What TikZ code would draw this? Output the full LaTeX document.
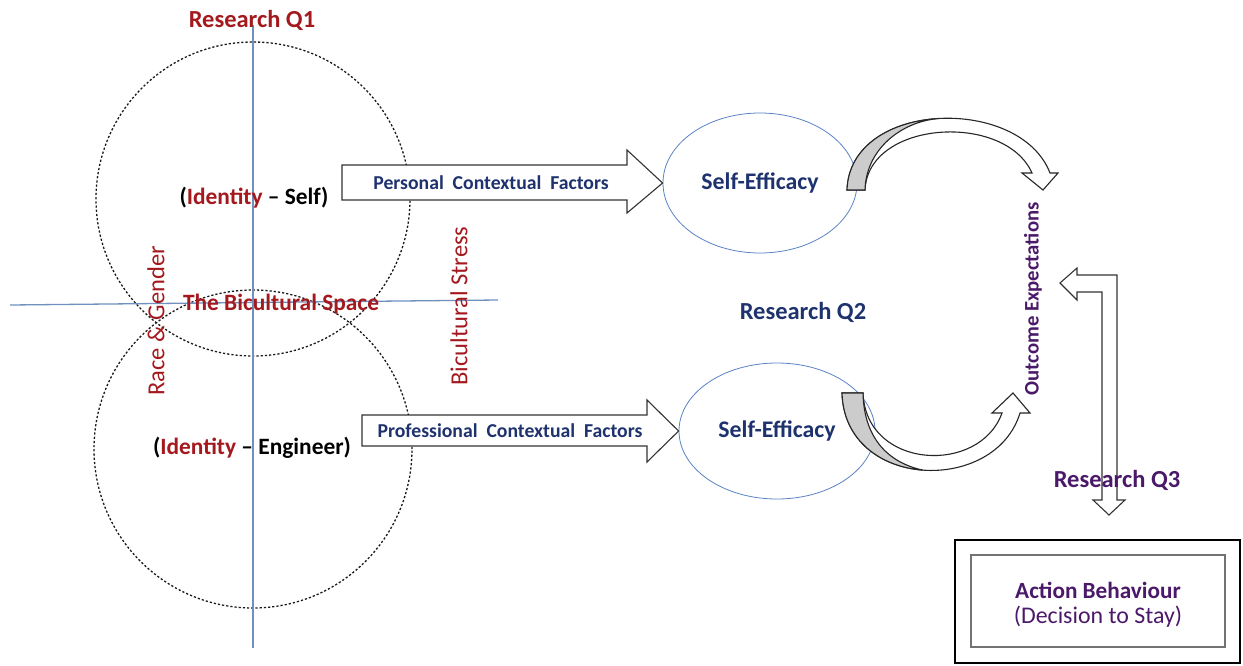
\documentclass[tikz,border=0pt]{standalone}
\usepackage{fontspec}
\setmainfont{Carlito}
\usetikzlibrary{shapes.geometric}
\definecolor{qred}{RGB}{163,25,30}
\definecolor{qblue}{RGB}{30,50,110}
\definecolor{qpurple}{RGB}{75,25,105}
\definecolor{lineblue}{RGB}{110,145,190}
\definecolor{ellblue}{RGB}{90,130,195}
\newcommand{\fs}[1]{\fontsize{#1}{#1}\selectfont}
\begin{document}
\begin{tikzpicture}[x=1pt,y=-1pt,
  txt/.style={inner sep=0pt, font=\fs{24.5}},
  btxt/.style={inner sep=0pt, font=\fs{23.4}\bfseries},
  rqtxt/.style={inner sep=0pt, font=\fs{24.5}\bfseries},
  ctxt/.style={inner sep=0pt, font=\fs{19.7}\bfseries, text=qblue},
  dotcircle/.style={draw=black!90, line width=1.3pt, dash pattern=on 2.2pt off 2pt},
  axisline/.style={draw=lineblue, line width=1.3pt},
  blockarrow/.style={draw=black!80, line width=1.1pt, fill=white, line join=miter},
  effell/.style={ellipse, draw=ellblue, line width=0.8pt, minimum width=194, minimum height=140, inner sep=0pt, font=\fs{23.8}\bfseries, text=qblue},
  bandstyle/.style={draw=black!85, line width=1.1pt, fill=white, line join=miter},
  graystyle/.style={draw=black!85, line width=1.1pt, fill=black!20, line join=miter}]
\useasboundingbox (0,0) rectangle (1243,665);

% dotted circles
\node[circle, dotcircle, minimum size=314, inner sep=0pt] (cself) at (253,199) {};
\node[circle, dotcircle, minimum size=318, inner sep=0pt] (ceng) at (253,449) {};

% axis lines
\coordinate (vtop) at (253,25);
\coordinate (vbot) at (253,648);
\coordinate (hl) at (10,305);
\coordinate (hr) at (498,300);
\draw[axisline] (vtop) -- (vbot);
\draw[axisline] (hl) -- (hr);

% left texts
\node[rqtxt, text=qred] (rq1) at (252,20) {Research Q1};
\node[btxt] (idself) at (254,198) {(\textcolor{qred}{Identity} -- Self)};
\node[btxt] (ideng) at (252,448) {(\textcolor{qred}{Identity} -- Engineer)};
\node[btxt, text=qred] (bspace) at (281,304) {The Bicultural Space};
\node[txt, text=qred, rotate=90] (race) at (156,321) {Race \& Gender};
\node[txt, text=qred, rotate=90] (bstress) at (459,306) {Bicultural Stress};

% ellipses
\node[effell] (se1) at (760,183) {Self-Efficacy};
\node[effell, minimum width=196, minimum height=136] (se2) at (777,431) {Self-Efficacy};

% block arrows
\draw[blockarrow] (342,165) -- (627,165) -- (627,150) -- (se1.west) -- (627,213) -- (627,200) -- (342,200) -- cycle;
\node[ctxt] (pcf) at (491,183) {Personal\ \ Contextual\ \ Factors};
\draw[blockarrow] (362,415) -- (647,415) -- (647,400) -- (se2.west) -- (647,462) -- (647,446) -- (362,446) -- cycle;
\node[ctxt] (prcf) at (510,431) {Professional\ \ Contextual\ \ Factors};

% Research Q2
\node[rqtxt, text=qblue] (rq2) at (803,312) {Research Q2};

% Outcome expectations
\node[inner sep=0pt, font=\fs{20.7}\bfseries, text=qpurple, rotate=90] (oe) at (1033,299) {Outcome Expectations};

% curved arrow top
\draw[bandstyle] (847,190) .. controls (850,100) and (1020,95) .. (1050,173) -- (1058,173) -- (1043,190) -- (1022,173) -- (1032,173) .. controls (1005,112) and (868,120) .. (865,190) -- cycle;
\draw[graystyle] (847,190) .. controls (848.5,145) and (891.75,121.25) .. (938.4,118.5) .. controls (900,122) and (866,150) .. (865,190) -- cycle;

% curved arrow bottom
\draw[bandstyle] (842,393) .. controls (845,490) and (995,495) .. (1020,413) -- (1030,413) -- (1013,393) -- (992,413) -- (1002,413) .. controls (980,475) and (866,470) .. (863,393) -- cycle;
\draw[graystyle] (842,393) .. controls (843.5,441.5) and (881.75,467) .. (922.75,470.1) .. controls (890,463) and (864,440) .. (863,393) -- cycle;

% Action behaviour boxes
\node[draw=black, line width=1.1pt, minimum width=285, minimum height=123, inner sep=0pt] (abouter) at (1097.5,601.5) {};
\node[draw=black!55, line width=2pt, minimum width=254, minimum height=92, inner sep=0pt] (abinner) at (1098,601) {};
\node[inner sep=0pt, font=\fs{23.2}\bfseries, text=qpurple] (ab) at (1098,590) {Action Behaviour};
\node[inner sep=0pt, font=\fs{23.9}, text=qpurple] (dts) at (1098,617) {(Decision to Stay)};

% L-shaped double arrow
\draw[blockarrow] (1060,283) -- (1077,268) -- (1077,275) -- (1117,275) -- (1117,500) -- (1125,500) -- (1109,515) -- (1093,500) -- (1102,500) -- (1102,292) -- (1077,292) -- (1077,300) -- cycle;

% Research Q3
\node[rqtxt, text=qpurple] (rq3) at (1117,480) {Research Q3};
\end{tikzpicture}
\end{document}
